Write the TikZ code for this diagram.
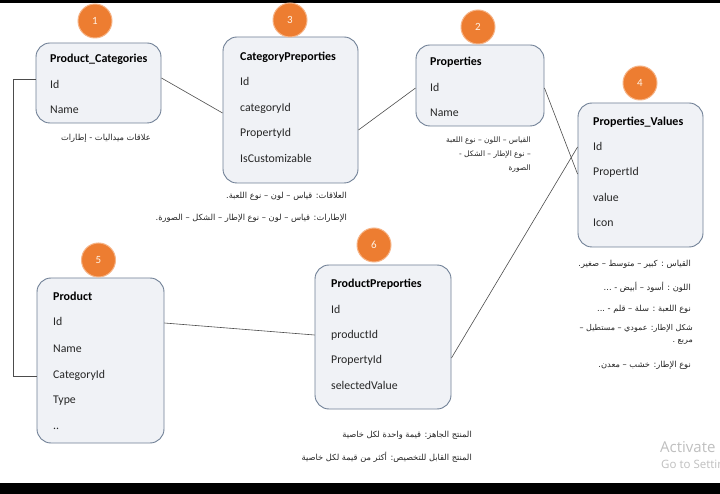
\documentclass[tikz,border=0pt]{standalone}
\usepackage{fontspec}
\setmainfont{Carlito}
\newfontfamily\arabicfont[Script=Arabic]{DejaVu Sans}
\newfontfamily\winfont{Open Sans}
\TeXXeTstate=1

\definecolor{tablefill}{RGB}{240,242,246}
\definecolor{tabledraw}{RGB}{112,128,150}
\definecolor{badgefill}{RGB}{237,125,49}
\definecolor{badgedraw}{RGB}{246,180,135}
\newcommand{\linkcolor}{black!70}
\newcommand{\notecolor}{black!85}
\newcommand{\fieldcolor}{black!85}

\tikzset{
  tbl/.style={draw=tabledraw, fill=tablefill, line width=0.9pt, rounded corners=14pt, inner sep=0pt},
  title/.style={anchor=base west, inner sep=0pt, text=black, font=\bfseries\fontsize{12}{14}\selectfont},
  field/.style={anchor=base west, inner sep=0pt, text=\fieldcolor, font=\fontsize{11.8}{14}\selectfont},
  badge/.style={circle, fill=badgefill, draw=badgedraw, line width=1pt, minimum size=34pt, inner sep=0pt, text=white!90!orange, font=\fontsize{11}{12}\selectfont},
  link/.style={draw=\linkcolor, line width=0.6pt},
  note/.style={inner sep=0pt, text=\notecolor, font=\arabicfont\fontsize{8.3}{13}\selectfont}
}

\begin{document}
\begin{tikzpicture}[x=1pt,y=-1pt]
\useasboundingbox (0,0) rectangle (720,494);
\fill[white] (0,0) rectangle (720,494);
\fill[black] (0,0) rectangle (720,3);
\fill[black] (0,483) rectangle (720,494);

% tables
\node[tbl, minimum width=125pt, minimum height=80pt] (pc) at (98.5,83) {};
\node[tbl, minimum width=135pt, minimum height=146pt] (cp) at (290.5,110) {};
\node[tbl, minimum width=128pt, minimum height=81pt] (pr) at (480,85.5) {};
\node[tbl, minimum width=125pt, minimum height=144pt] (pv) at (640.5,175) {};
\node[tbl, minimum width=127pt, minimum height=165pt] (p) at (100.5,360.5) {};
\node[tbl, minimum width=136pt, minimum height=144pt] (pp) at (383,337) {};

% badges
\node[badge] (b1) at (95,21) {1};
\node[badge] (b3) at (290,20) {3};
\node[badge] (b2) at (478,27) {2};
\node[badge] (b4) at (640,83) {4};
\node[badge] (b5) at (98.5,260) {5};
\node[badge] (b6) at (374,245) {6};

% fields
\node[title] (pct) at (50,63) {Product\_Categories};
\node[field] (pcid) at (50,89) {Id};
\node[field] (pcname) at (50,114) {Name};

\node[title] (cpt) at (240,61) {CategoryPreporties};
\node[field] (cpid) at (240,86) {Id};
\node[field] (cpcat) at (240,112) {categoryId};
\node[field] (cpprop) at (240,137) {PropertyId};
\node[field] (cpcust) at (240,163) {IsCustomizable};

\node[title] (prt) at (430,66) {Properties};
\node[field] (prid) at (430,92) {Id};
\node[field] (prname) at (430,117) {Name};

\node[title] (pvt) at (593,126) {Properties\_Values};
\node[field] (pvid) at (593,151) {Id};
\node[field] (pvprop) at (593,176) {PropertId};
\node[field] (pvval) at (593,202) {value};
\node[field] (pvicon) at (593,227) {Icon};

\node[title] (pt) at (53,301) {Product};
\node[field] (pid) at (53,326) {Id};
\node[field] (pname) at (53,352) {Name};
\node[field] (pcat) at (53,378) {CategoryId};
\node[field] (ptype) at (53,403) {Type};
\node[field] (pmore) at (53,429) {..};

\node[title] (ppt) at (331,288) {ProductPreporties};
\node[field] (ppid) at (331,313) {Id};
\node[field] (ppprod) at (331,338) {productId};
\node[field] (ppprop) at (331,363) {PropertyId};
\node[field] (ppsel) at (331,389) {selectedValue};

% notes
\node[note, anchor=east] (pcnote) at (151,138) {\beginR علاقات ميداليات - إطارات\endR};
\node[note, anchor=east] (cpnote1) at (347,196) {\beginR العلاقات: قياس – لون – نوع اللعبة.\endR};
\node[note, anchor=east] (cpnote2) at (347,218) {\beginR الإطارات: قياس – لون – نوع الإطار – الشكل – الصورة.\endR};
\node[note, anchor=east, font=\arabicfont\fontsize{7.5}{14}\selectfont, align=right] (prnote) at (531,155)
  {\beginR القياس – اللون – نوع اللعبة\endR\\ \beginR – نوع الإطار – الشكل -\endR\\ \beginR الصورة\endR};
\node[note, anchor=east] (pvnote1) at (691,264) {\beginR القياس : كبير – متوسط – صغير.\endR};
\node[note, anchor=east] (pvnote2) at (691,287) {\beginR اللون : أسود – أبيض - ...\endR};
\node[note, anchor=east] (pvnote3) at (691,309) {\beginR نوع اللعبة : سلة – قلم - ...\endR};
\node[note, anchor=north east, align=right, font=\arabicfont\fontsize{8}{12}\selectfont] (pvnote4) at (693,324)
  {\beginR شكل الإطار: عمودي – مستطيل –\endR\\ \beginR مربع .\endR};
\node[note, anchor=east] (pvnote5) at (691,365) {\beginR نوع الإطار: خشب – معدن.\endR};
\node[note, anchor=east] (ppnote1) at (472,435) {\beginR المنتج الجاهز: قيمة واحدة لكل خاصية\endR};
\node[note, anchor=east] (ppnote2) at (472,457) {\beginR المنتج القابل للتخصيص: أكثر من قيمة لكل خاصية\endR};

% links
\coordinate (lbus) at (13,0);
\draw[link] ([yshift=5pt]pc.east) -- ([yshift=-3pt]cp.west);
\draw[link] ([yshift=-20pt]cp.east) -- ([yshift=-2.5pt]pr.west);
\draw[link] ([yshift=-2.5pt]pr.east) -- ([yshift=1pt]pv.west);
\draw[link] ([yshift=-21pt]pp.east) -- ([yshift=28pt]pv.west);
\draw[link] ([yshift=37.5pt]p.east) -- ([yshift=2pt]pp.west);
\draw[link] ([yshift=4pt]pc.west) -- ([yshift=4pt]pc.west -| lbus) -- ([yshift=-15.5pt]p.west -| lbus) -- ([yshift=-15.5pt]p.west);

% watermark
\node[anchor=base west, inner sep=0pt, text=black!25, font=\winfont\fontsize{15}{16}\selectfont] (wm1) at (660,452) {Activate};
\node[anchor=base west, inner sep=0pt, text=black!25, font=\winfont\fontsize{11.5}{12}\selectfont] (wm2) at (661,468) {Go to Settings};
\end{tikzpicture}
\end{document}
